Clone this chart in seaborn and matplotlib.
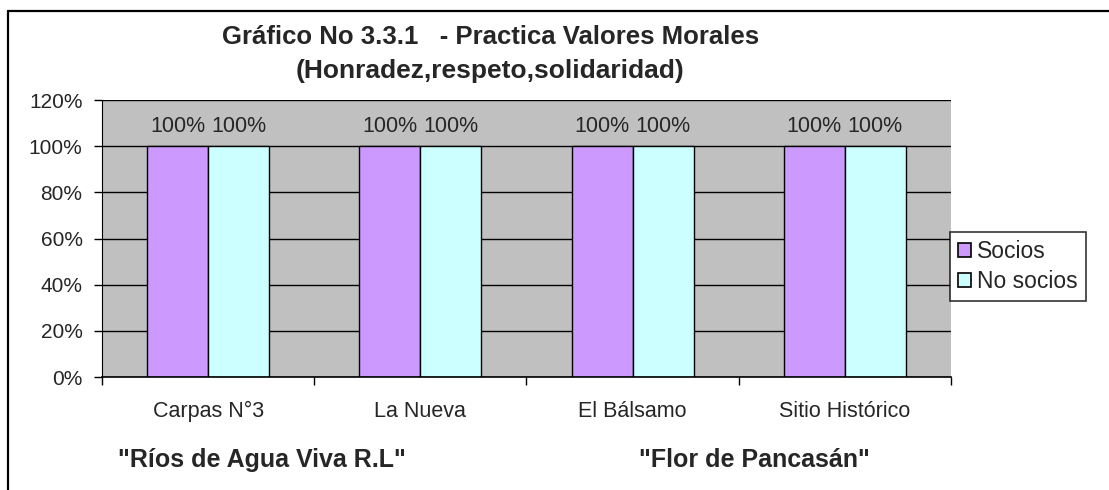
import pandas as pd
import matplotlib.pyplot as plt
import seaborn as sns
from matplotlib.patches import Rectangle

# data
comunidades = ["Carpas N°3", "La Nueva", "El Bálsamo", "Sitio Histórico"]
socios = [100, 100, 100, 100]
no_socios = [100, 100, 100, 100]
series = ["Socios", "No socios"]
cooperativas = ['"Ríos de Agua Viva R.L"', '"Flor de Pancasán"']
yticks = [0, 20, 40, 60, 80, 100, 120]

df = pd.DataFrame({
    "Comunidad": comunidades * 2,
    "Serie": [series[0]] * 4 + [series[1]] * 4,
    "Valor": socios + no_socios,
})

sns.set_style("white")
plt.rcParams["font.family"] = ["Liberation Sans", "DejaVu Sans"]

fig = plt.figure(figsize=(11.09, 4.9), dpi=100)
ax = fig.add_axes([0.092, 0.2306, 0.7655, 0.565])

sns.barplot(data=df, x="Comunidad", y="Valor", hue="Serie",
            palette=["#CC99FF", "#CCFFFF"], width=0.575,
            edgecolor="black", linewidth=1, saturation=1, ax=ax)

ax.set_facecolor("#C0C0C0")
ax.set_ylim(0, 120)
ax.set_xlim(-0.5, 3.5)
ax.set_yticks(yticks)
ax.set_yticklabels([f"{v}%" for v in yticks], fontsize=15)
ax.yaxis.grid(True, color="black", linewidth=1)
ax.set_axisbelow(True)
ax.set_xlabel("")
ax.set_ylabel("")

# excel-like ticks at category boundaries
ax.set_xticks([-0.5, 0.5, 1.5, 2.5, 3.5])
ax.set_xticklabels([])
ax.set_xticks(range(4), minor=True)
ax.set_xticklabels(comunidades, minor=True, fontsize=15.5)
ax.tick_params(axis="x", which="minor", length=0, pad=17)
ax.tick_params(axis="x", which="major", length=6, width=1, color="black", direction="out", bottom=True)
ax.tick_params(axis="y", length=6, width=1, color="black", direction="out", left=True, pad=8)

for s in ["top", "right"]:
    ax.spines[s].set_visible(False)
ax.spines["left"].set_color("black")
ax.spines["bottom"].set_color("black")
ax.spines["bottom"].set_linewidth(1.2)

for cont in ax.containers:
    ax.bar_label(cont, labels=[f"{int(v)}%" for v in cont.datavalues], padding=7, fontsize=15.5)

ax.legend_.remove()
handles = [Rectangle((0, 0), 1, 1, facecolor=c, edgecolor="black", linewidth=1.2) for c in ["#CC99FF", "#CCFFFF"]]
leg = fig.legend(handles, series, loc="upper left", bbox_to_anchor=(0.8566, 0.5265),
                 fontsize=16.5, frameon=True, fancybox=False, edgecolor="black",
                 handlelength=0.55, handleheight=0.55, handletextpad=0.3,
                 borderpad=0.35, labelspacing=0.3, borderaxespad=0)
leg.get_frame().set_linewidth(1.2)

fig.text(0.442, 0.925, "Gráfico No 3.3.1   - Practica Valores Morales", ha="center",
         va="center", fontsize=18.5, fontweight="bold")
fig.text(0.442, 0.855, "(Honradez,respeto,solidaridad)", ha="center",
         va="center", fontsize=19, fontweight="bold")

fig.text(0.236, 0.061, cooperativas[0], ha="center", va="center", fontsize=18, fontweight="bold")
fig.text(0.68, 0.061, cooperativas[1], ha="center", va="center", fontsize=18, fontweight="bold")

# outer chart border (left and top edges visible)
fig.add_artist(plt.Line2D([0.0068, 0.0068], [0.0, 0.9776], color="black", linewidth=1.6, transform=fig.transFigure))
fig.add_artist(plt.Line2D([0.0068, 1.0], [0.9776, 0.9776], color="black", linewidth=1.6, transform=fig.transFigure))

fig.savefig("out.png", dpi=100)
